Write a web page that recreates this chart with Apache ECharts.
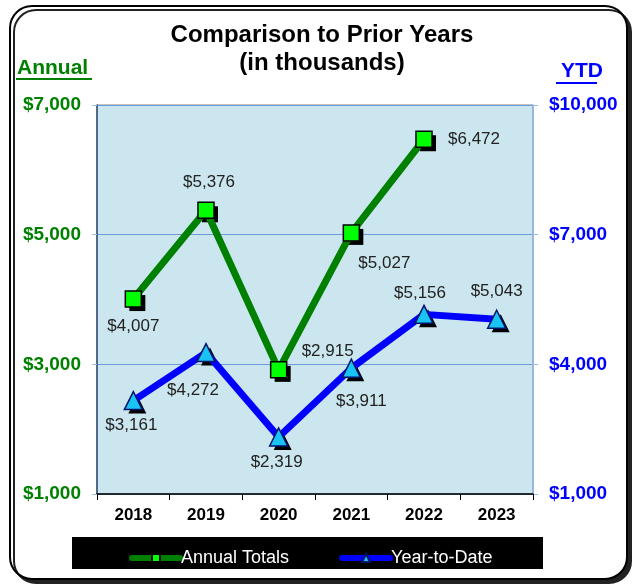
<!DOCTYPE html>
<html>
<head>
<meta charset="utf-8">
<script src="https://cdn.jsdelivr.net/npm/echarts@6/dist/echarts.min.js"></script>
<style>
  html, body { margin: 0; padding: 0; background: #fff; }
  #chart { width: 634px; height: 586px; }
</style>
</head>
<body>
<div id="chart"></div>
<script>
// chart data
const years = ['2018', '2019', '2020', '2021', '2022', '2023'];
const annualTotals = [4007, 5376, 2915, 5027, 6472, null];
const yearToDate = [3161, 4272, 2319, 3911, 5156, 5043];

// label offsets from each marker centre (px)
const annualLabelOffset = [[0, 27], [3, -28], [49, -19], [33, 30], [50, 0]];
const ytdLabelOffset = [[-2, 25], [-13, 38], [-2, 25], [10, 33], [-4, -21], [0, -28]];

const money = v => '$' + Number(v).toLocaleString('en-US');
const font = 'Arial, "Liberation Sans", sans-serif';

function withLabels(values, offsets) {
    return values.map((v, i) => ({
        value: v,
        label: { position: 'inside', offset: offsets[i] }
    }));
}

let myChart = echarts.init(document.getElementById('chart'));

let option = {
    backgroundColor: '#fff',
    animation: false,
    textStyle: { fontFamily: font },
    graphic: [
        {
            type: 'rect', z: -10,
            shape: { x: 10, y: 6, width: 617, height: 573, r: 22 },
            style: { fill: '#fff', stroke: '#000', lineWidth: 2,
                shadowColor: '#222', shadowOffsetX: 4, shadowOffsetY: 4, shadowBlur: 0 }
        },
        {
            type: 'text', x: 322, y: 23,
            style: { text: 'Comparison to Prior Years', fill: '#000',
                font: 'bold 24px ' + font, align: 'center' }
        },
        {
            type: 'text', x: 322, y: 51,
            style: { text: '(in thousands)', fill: '#000',
                font: 'bold 24px ' + font, align: 'center' }
        },
        {
            type: 'text', left: 17, top: 58,
            style: { text: 'Annual', fill: '#008000', font: 'bold 21px ' + font }
        },
        { type: 'rect', shape: { x: 16, y: 78, width: 76, height: 2 }, style: { fill: '#008000' } },
        {
            type: 'text', left: 561, top: 61,
            style: { text: 'YTD', fill: '#0000ff', font: 'bold 21px ' + font }
        },
        { type: 'rect', shape: { x: 556, y: 82, width: 41, height: 2 }, style: { fill: '#0000ff' } },
        {
            type: 'rect', z: 1,
            shape: { x: 72, y: 537, width: 471, height: 32 },
            style: { fill: '#000' }
        }
    ],
    legend: {
        top: 544, left: 124, z: 5,
        itemWidth: 48, itemHeight: 10, itemGap: 50,
        lineStyle: { width: 6, cap: 'round' },
        textStyle: { color: '#fff', fontSize: 18, fontFamily: font, padding: [0, 0, 0, -4] },
        data: ['Annual Totals', 'Year-to-Date']
    },
    grid: {
        left: 97, right: 101, top: 105, bottom: 92,
        show: true, backgroundColor: '#cbe6ee', borderColor: '#888', borderWidth: 1
    },
    xAxis: {
        type: 'category', data: years, boundaryGap: true,
        axisLine: { lineStyle: { color: '#000', width: 1.5 } },
        axisTick: { show: true, length: 6, lineStyle: { color: '#000' } },
        axisLabel: { color: '#000', fontWeight: 'bold', fontSize: 17, margin: 13, fontFamily: font }
    },
    yAxis: [
        {
            type: 'value', min: 1000, max: 7000, interval: 2000, position: 'left',
            axisLine: { show: true, lineStyle: { color: '#2e4c7a', width: 1.5 } },
            axisTick: { show: true, length: 5, lineStyle: { color: '#9bbce6' } },
            splitLine: { show: true, lineStyle: { color: '#6c9bd8', width: 1 } },
            axisLabel: { color: '#008000', fontWeight: 'bold', fontSize: 19, margin: 16,
                fontFamily: font, formatter: money }
        },
        {
            type: 'value', min: 1000, max: 10000, interval: 3000, position: 'right',
            axisLine: { show: true, lineStyle: { color: '#8fb4e6', width: 1.5 } },
            axisTick: { show: true, length: 5, lineStyle: { color: '#9bbce6' } },
            splitLine: { show: false },
            axisLabel: { color: '#0000ff', fontWeight: 'bold', fontSize: 19, margin: 16,
                fontFamily: font, formatter: money }
        }
    ],
    series: [
        // black drop shadows behind the markers
        {
            name: 'annualShadow', type: 'line', yAxisIndex: 0, data: annualTotals,
            symbol: 'rect', symbolSize: 16, symbolOffset: [4, 4],
            lineStyle: { opacity: 0 }, itemStyle: { color: '#000' },
            silent: true, z: 3
        },
        {
            name: 'ytdShadow', type: 'line', yAxisIndex: 1, data: yearToDate,
            symbol: 'triangle', symbolSize: 18, symbolOffset: [4, 4],
            lineStyle: { opacity: 0 }, itemStyle: { color: '#000' },
            silent: true, z: 3
        },
        {
            name: 'Annual Totals', type: 'line', yAxisIndex: 0,
            data: withLabels(annualTotals, annualLabelOffset),
            symbol: 'rect', symbolSize: 16,
            lineStyle: { color: '#008000', width: 7 },
            itemStyle: { color: '#00ff00', borderColor: '#000', borderWidth: 1.5 },
            label: { show: true, color: '#222', fontSize: 17, fontFamily: font,
                formatter: p => money(p.value) },
            z: 4
        },
        {
            name: 'Year-to-Date', type: 'line', yAxisIndex: 1,
            data: withLabels(yearToDate, ytdLabelOffset),
            symbol: 'triangle', symbolSize: 18,
            lineStyle: { color: '#0000ff', width: 7 },
            itemStyle: { color: '#19c3f5', borderColor: '#00156b', borderWidth: 1.5 },
            label: { show: true, color: '#222', fontSize: 17, fontFamily: font,
                formatter: p => money(p.value) },
            z: 4
        }
    ]
};

myChart.setOption(option);
</script>
</body>
</html>
